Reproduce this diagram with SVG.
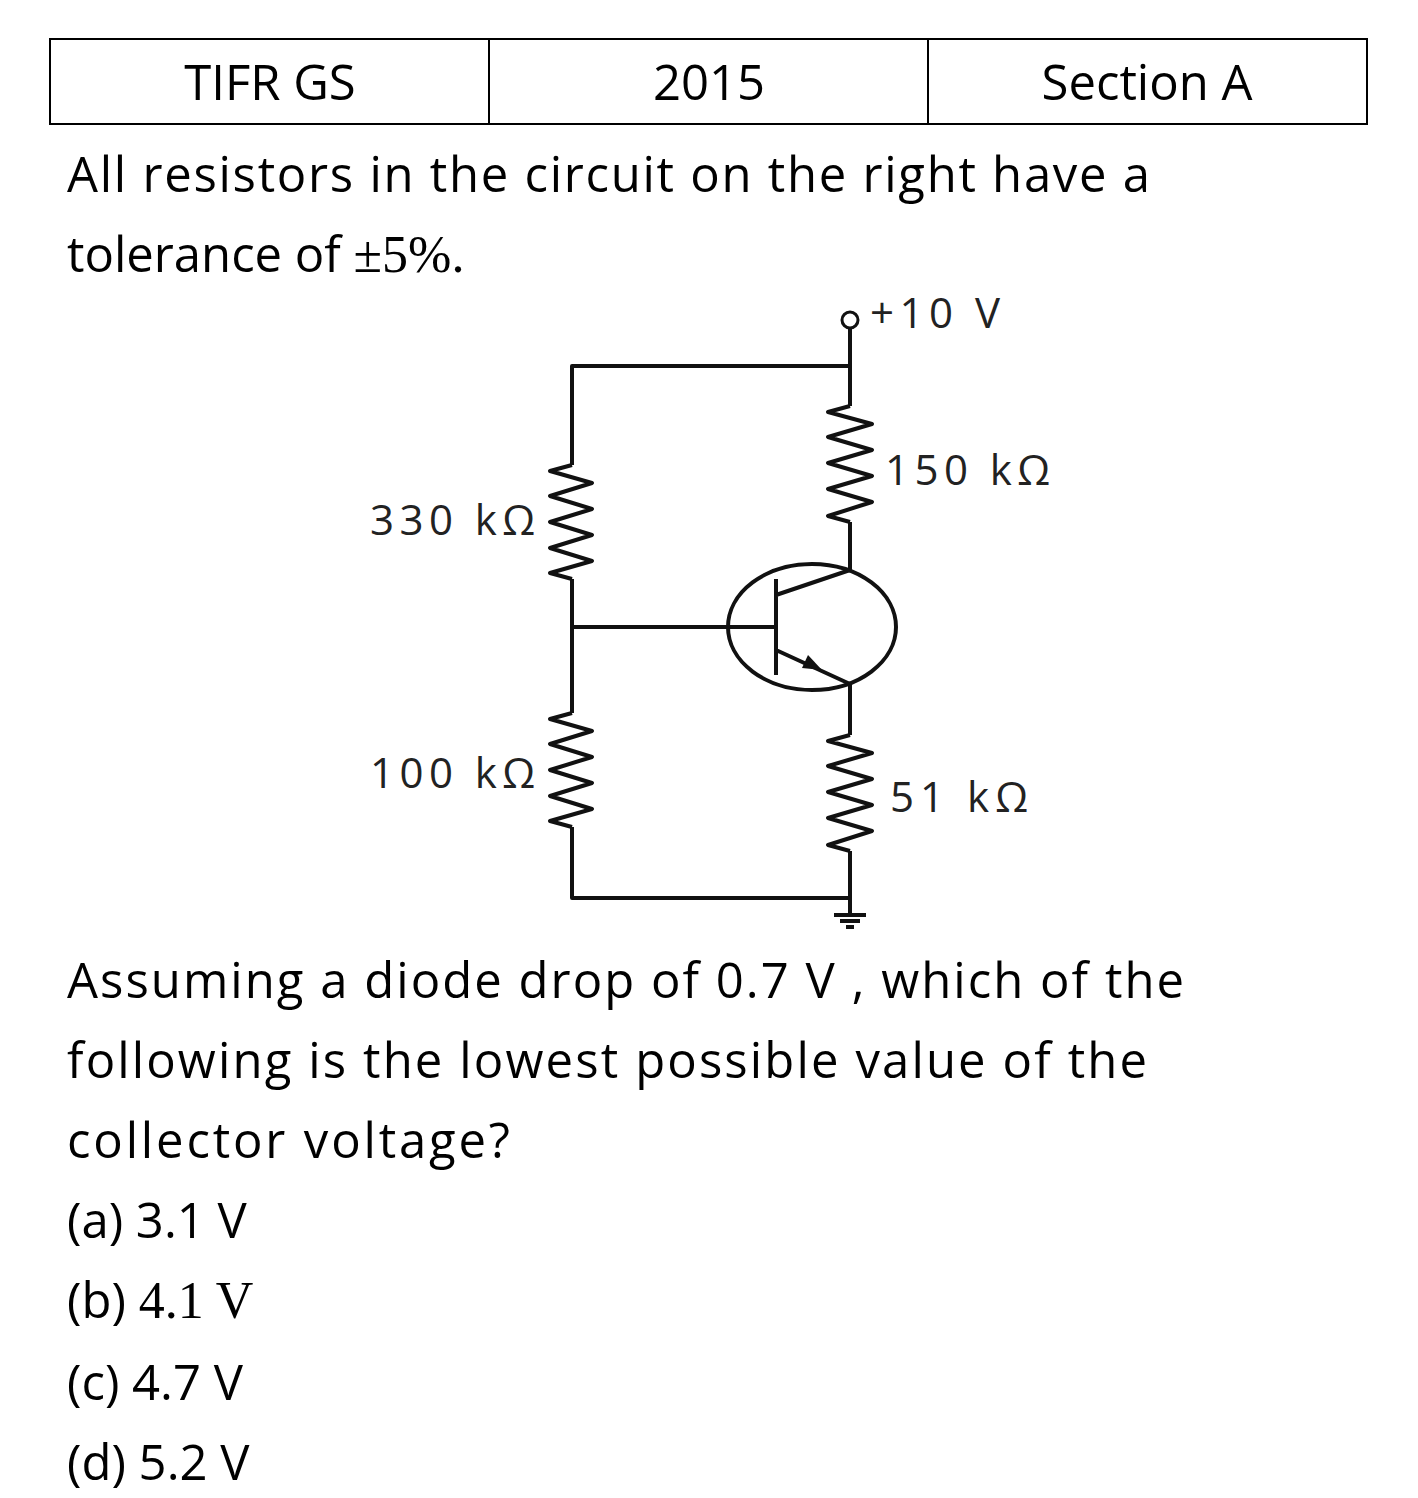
<svg xmlns="http://www.w3.org/2000/svg" width="1418" height="1498" viewBox="0 0 1418 1498">
<style>
.t{font-family:"Open Sans","Liberation Sans",sans-serif;font-size:49px;fill:#000}
.s{font-family:"Liberation Serif",serif;font-size:52px;fill:#000}
.l{font-family:"Open Sans","Liberation Sans",sans-serif;font-size:42px;fill:#222}
.w{fill:none;stroke:#111;stroke-width:4;stroke-linejoin:round}
</style>
<rect width="1418" height="1498" fill="#fff"/>
<g id="table" fill="none" stroke="#000" stroke-width="2">
<rect x="50" y="39" width="1317" height="85"/><line x1="489" y1="39" x2="489" y2="124"/><line x1="928" y1="39" x2="928" y2="124"/>
</g>
<g class="t" text-anchor="middle"><text x="270" y="100">TIFR GS</text><text x="709" y="100">2015</text><text x="1147" y="100">Section A</text></g>
<text class="t" x="67" y="192" textLength="1083">All resistors in the circuit on the right have a</text>
<text class="t" x="67" y="272">tolerance of <tspan class="s">±5%.</tspan></text>
<g id="connectors" class="w">
<path d="M850 329 V366 H572 V465"/>
<path d="M572 579 V713"/><path d="M572 827 V898 H850"/>
<path d="M850 366 V406"/><path d="M850 522 V570"/>
<path d="M572 627 H776"/>
<path d="M850 684 V735"/><path d="M850 851 V915"/>
<path d="M834 915 H866 M840 921 H860 M846 927 H854"/>
</g>
<g id="terminal"><circle cx="850" cy="320" r="8" fill="#fff" stroke="#111" stroke-width="3"/></g>
<g id="R330"><polyline class="w" points="572,465 550,471 592,483 550,496 592,509 550,522 592,535 550,548 592,561 550,573 572,579"/></g>
<g id="R100"><polyline class="w" points="572,713 550,719 592,731 550,744 592,757 550,770 592,783 550,796 592,809 550,821 572,827"/></g>
<g id="R150"><polyline class="w" points="850,406 828,412 872,424 828,437 872,450 828,463 872,476 828,489 872,502 828,516 850,522"/></g>
<g id="R51"><polyline class="w" points="850,735 828,741 872,753 828,766 872,779 828,792 872,805 828,818 872,831 828,845 850,851"/></g>
<g id="Q">
<ellipse class="w" cx="812" cy="627" rx="84" ry="63"/>
<path class="w" d="M776 579 V675 M776 595 L850 570 M776 650 L850 684"/>
<polygon points="822,670 802,668 808,655" fill="#111"/>
</g>
<g class="l">
<text x="870" y="328" textLength="130">+10 V</text><text x="885" y="485" textLength="165">150 kΩ</text><text x="370" y="535" textLength="165">330 kΩ</text>
<text x="370" y="788" textLength="165">100 kΩ</text><text x="890" y="812" textLength="138">51 kΩ</text>
</g>
<text class="t" x="67" y="998" textLength="1117">Assuming a diode drop of 0.7 V , which of the</text>
<text class="t" x="67" y="1078" textLength="1080">following is the lowest possible value of the</text>
<text class="t" x="67" y="1158" textLength="443">collector voltage?</text>
<text class="t" x="67" y="1238">(a) 3.1 V</text>
<text class="t" x="67" y="1318">(b) <tspan class="s">4.1 V</tspan></text>
<text class="t" x="67" y="1400">(c) 4.7 V</text>
<text class="t" x="67" y="1480">(d) 5.2 V</text>
</svg>
